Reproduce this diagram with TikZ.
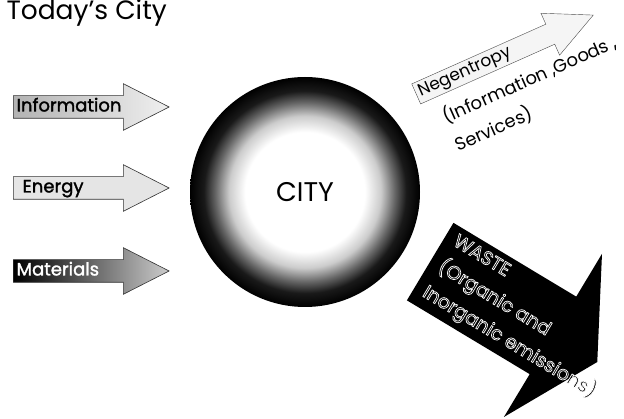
\documentclass[tikz,border=0pt]{standalone}
\usepackage{fontspec}
\setmainfont{Poppins}
\newfontfamily\heavyfont{Poppins}[FakeBold=1.6]
\usetikzlibrary{shapes.arrows}
\pgfdeclareradialshading{cityglow}{\pgfpoint{0bp}{0bp}}{%
  color(0bp)=(white); color(13bp)=(white); color(16.5bp)=(gray!40);
  color(19.5bp)=(black!60); color(22bp)=(black!90); color(25bp)=(black); color(50bp)=(black)}
% white outline round black letters (fill + stroke render mode)
\newcommand{\hollowon}{\special{pdf:literal direct 2 Tr 1 G 0.7 w}}
\newcommand{\hollowoff}{\special{pdf:literal direct 0 Tr 0 G}}
\tikzset{
  inarrow/.style={single arrow, draw=black!80, semithick, anchor=tail,
    single arrow head extend=12pt, single arrow tip angle=54,
    text width=127pt, align=left, inner xsep=3pt, inner ysep=3pt,
    text height=12.5pt, text depth=3.5pt, font=\heavyfont\fontsize{18}{20}\selectfont},
  outarrow/.style={single arrow, draw=black!70, anchor=tail, rotate=24,
    single arrow head extend=12pt, single arrow tip angle=52,
    text width=165pt, align=left, inner xsep=3pt, inner ysep=3pt,
    text height=12pt, text depth=3.5pt, fill=gray!8, font=\fontsize{17}{20}\selectfont},
  wastearrow/.style={single arrow, fill=black, anchor=tail, rotate=-31,
    single arrow head extend=50pt, single arrow tip angle=123,
    inner xsep=85pt, inner ysep=45pt},
  flowtext/.style={inner sep=0pt, align=left, font=\fontsize{18}{31}\selectfont},
}
\begin{document}
\begin{tikzpicture}[x=1pt,y=-1pt]
  \useasboundingbox (0,0) rectangle (624,419);
  \node[anchor=base west, font=\fontsize{26.5}{30}\selectfont] (title) at (3,20) {Today's City};
  % inputs
  \node[inarrow, left color=gray!60, right color=gray!12] (aInfo) at (13,107) {Information};
  \node[inarrow, fill=gray!20] (aEnergy) at (13,188) {\hspace{6pt}Energy};
  \node[inarrow, left color=black, middle color=black!85, right color=gray!40, text=white] (aMat) at (13,271) {Materials};
  % the city
  \node[circle, minimum size=230pt, inner sep=0pt, shade, shading=cityglow,
    font=\fontsize{27}{30}\selectfont] (city) at (305,192) {CITY};
  % outputs
  \node[outarrow] (aNeg) at (416,94) {Negentropy};
  \node[flowtext, rotate=24, anchor=north west] (negText) at (439,108) {(Information ,Goods ,\\Services)};
  \node[wastearrow] (aWaste) at (430,261.5) {};
  \node[flowtext, rotate=-31, anchor=north west,
    font=\fontsize{19}{29.7}\selectfont] (wasteText) at (459,233)
    {\hollowon WASTE\\(Organic and\\Inorganic emissions)\hollowoff};
\end{tikzpicture}
\end{document}
